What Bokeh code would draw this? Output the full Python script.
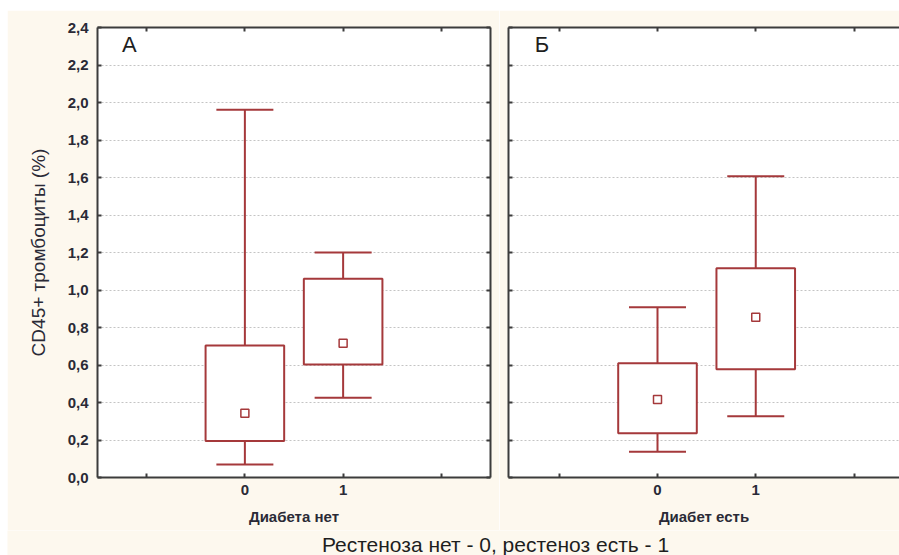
from bokeh.plotting import figure
from bokeh.layouts import row, column
from bokeh.models import (ColumnDataSource, LinearAxis, FixedTicker, Range1d,
                          Label, CustomJSTickFormatter)
from bokeh.embed import file_html
from bokeh.resources import INLINE

# ---- data -------------------------------------------------------------
groups = [0, 1]                      # рестеноза нет / есть

# Panel А: диабета нет
a_lo = [0.07, 0.425]
a_q1 = [0.195, 0.603]
a_mid = [0.343, 0.716]
a_q3 = [0.704, 1.06]
a_hi = [1.961, 1.20]

# Panel Б: диабет есть
b_lo = [0.137, 0.327]
b_q1 = [0.236, 0.578]
b_mid = [0.416, 0.855]
b_q3 = [0.610, 1.116]
b_hi = [0.908, 1.607]

y_ticks = [0.0, 0.2, 0.4, 0.6, 0.8, 1.0, 1.2, 1.4, 1.6, 1.8, 2.0, 2.2, 2.4]
y_tick_labels = ["0,0", "0,2", "0,4", "0,6", "0,8", "1,0", "1,2",
                 "1,4", "1,6", "1,8", "2,0", "2,2", "2,4"]
x_ticks = [-1, 0, 1, 2]
x_tick_labels = ["", "0", "1", ""]

# ---- style ------------------------------------------------------------
RED = "#a5393b"
FRAME = "#3c3c3c"
CREAM = "#fdf8ee"
GRID = "#c4c4c4"
TXT = "#2a2a36"
FONT = "Liberation Sans"
UNIT = 393 / 4.0                     # px per x unit


def tick_formatter(values, texts):
    return CustomJSTickFormatter(args=dict(vals=values, txts=texts), code="""
        for (let i = 0; i < vals.length; i++) {
            if (Math.abs(vals[i] - tick) < 1e-9) return txts[i];
        }
        return "";
    """)


def blank_formatter():
    return CustomJSTickFormatter(code='return "";')


def style_axis(ax, tick_list, formatter):
    ax.ticker = FixedTicker(ticks=tick_list)
    ax.formatter = formatter
    ax.major_tick_in = 4
    ax.major_tick_out = 0
    ax.minor_tick_line_color = None
    ax.axis_line_color = FRAME
    ax.axis_line_width = 2
    ax.major_tick_line_color = FRAME
    ax.major_tick_line_width = 2
    ax.major_label_text_font = FONT
    ax.major_label_text_font_size = "15px"
    ax.major_label_text_font_style = "bold"
    ax.major_label_text_color = TXT


def panel(x_range, width, border_left, border_right, letter, xlabel,
          lo, q1, mid, q3, hi, left_labels, right_axis):
    p = figure(width=width, height=520, x_range=x_range, y_range=Range1d(0, 2.4),
               output_backend="svg", toolbar_location=None,
               min_border_left=border_left, min_border_right=border_right,
               min_border_top=17, min_border_bottom=53)
    p.border_fill_color = CREAM
    p.background_fill_color = "white"
    p.outline_line_color = None

    p.xgrid.visible = False
    p.ygrid.ticker = FixedTicker(ticks=y_ticks)
    p.ygrid.grid_line_color = GRID
    p.ygrid.grid_line_dash = "2 2"
    p.ygrid.grid_line_width = 1

    style_axis(p.xaxis[0], x_ticks, tick_formatter(x_ticks, x_tick_labels))
    p.xaxis.major_label_standoff = 7
    p.xaxis.axis_label = xlabel
    p.xaxis.axis_label_text_font = FONT
    p.xaxis.axis_label_text_font_size = "15px"
    p.xaxis.axis_label_text_font_style = "bold"
    p.xaxis.axis_label_text_color = TXT
    p.xaxis.axis_label_standoff = 10

    if left_labels:
        style_axis(p.yaxis[0], y_ticks, tick_formatter(y_ticks, y_tick_labels))
        p.yaxis.major_label_standoff = 9
        p.yaxis.axis_label = "CD45+ тромбоциты (%)"
        p.yaxis.axis_label_text_font = FONT
        p.yaxis.axis_label_text_font_size = "19px"
        p.yaxis.axis_label_text_font_style = "normal"
        p.yaxis.axis_label_text_color = TXT
        p.yaxis.axis_label_standoff = 16
    else:
        style_axis(p.yaxis[0], y_ticks, blank_formatter())

    top = LinearAxis()
    style_axis(top, x_ticks, blank_formatter())
    p.add_layout(top, "above")
    if right_axis:
        right = LinearAxis()
        style_axis(right, y_ticks, blank_formatter())
        p.add_layout(right, "right")

    src = ColumnDataSource(dict(x=groups, lo=lo, q1=q1, mid=mid, q3=q3, hi=hi))
    p.segment(x0="x", y0="q3", x1="x", y1="hi", source=src,
              line_color=RED, line_width=2)
    p.segment(x0="x", y0="q1", x1="x", y1="lo", source=src,
              line_color=RED, line_width=2)
    p.vbar(x="x", bottom="q1", top="q3", width=0.8, source=src,
           fill_color="white", line_color=RED, line_width=2)
    p.scatter(x="x", y="hi", marker="dash", size=57, source=src,
              line_color=RED, line_width=2)
    p.scatter(x="x", y="lo", marker="dash", size=57, source=src,
              line_color=RED, line_width=2)
    p.scatter(x="x", y="mid", marker="square", size=8, source=src,
              fill_color="white", line_color=RED, line_width=1.5)

    p.add_layout(Label(x=-1.25, y=2.31, text=letter, text_font=FONT,
                       text_font_size="22px", text_color="#1e1e1e",
                       text_baseline="middle"))
    return p


p1 = panel(Range1d(-1.5, 2.5), 492, 90, 9, "А", "Диабета нет",
           a_lo, a_q1, a_mid, a_q3, a_hi, True, True)
left_edge = -149 / UNIT
p2 = panel(Range1d(left_edge, left_edge + 391 / UNIT), 400, 9, 0, "Б", "Диабет есть",
           b_lo, b_q1, b_mid, b_q3, b_hi, False, False)

# shared caption below both panels
cap = figure(width=892, height=25, output_backend="svg", toolbar_location=None,
             x_range=Range1d(0, 1), y_range=Range1d(0, 1),
             min_border=0, x_axis_type=None, y_axis_type=None)
cap.border_fill_color = CREAM
cap.background_fill_color = CREAM
cap.outline_line_color = None
cap.grid.visible = False
cap.add_layout(Label(x=488, y=11, x_units="screen", y_units="screen",
                     text="Рестеноза нет - 0, рестеноз есть - 1",
                     text_font=FONT, text_font_size="21px", text_color="#1e1e1e",
                     text_align="center", text_baseline="middle"))

layout = column(row(p1, p2, spacing=0), cap, spacing=0, margin=(10, 0, 0, 7))

open("out.html", "w").write(file_html(layout, INLINE))
